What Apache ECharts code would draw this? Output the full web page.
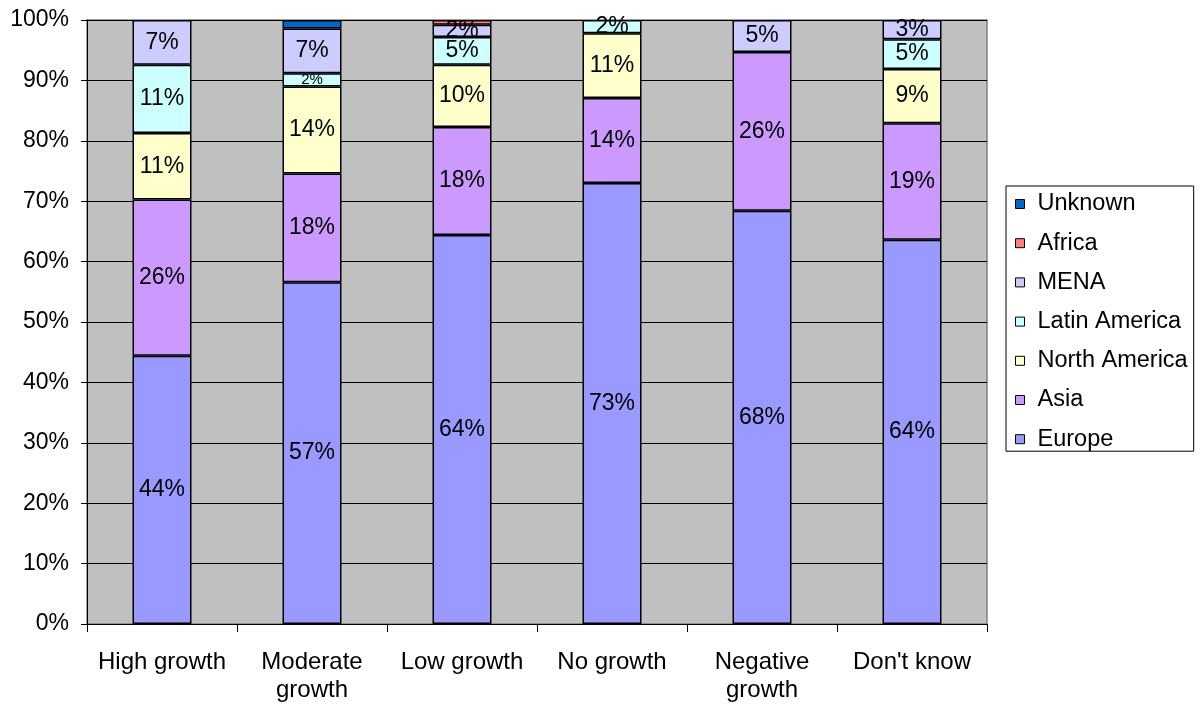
<!DOCTYPE html>
<html>
<head>
<meta charset="utf-8">
<title>Growth expectations by region</title>
<script src="https://cdn.jsdelivr.net/npm/echarts@6/dist/echarts.min.js"></script>
<style>
  html, body { margin: 0; padding: 0; background: #ffffff; }
  #chart { width: 1200px; height: 704px; }
</style>
</head>
<body>
<div id="chart"></div>
<script>
// Growth outlook categories
const categories = ['High growth', 'Moderate\ngrowth', 'Low growth', 'No growth', 'Negative\ngrowth', "Don't know"];

// Share of respondents per region (percent of each column)
const europe       = [44.4, 56.6, 64.4, 73.0, 68.4, 63.6];
const asia         = [25.9, 18.0, 17.9, 14.1, 26.3, 19.3];
const northAmerica = [11.0, 14.4, 10.3, 10.7, null, 9.0];
const latinAmerica = [11.3, 2.2, 4.6, 2.2, null, 4.9];
const mena         = [7.4, 7.4, 2.0, null, 5.3, 3.2];
const africa       = [null, null, 0.8, null, null, null];
const unknown      = [null, 1.4, null, null, null, null];

const yTicks = [0, 10, 20, 30, 40, 50, 60, 70, 80, 90, 100];

const FONT = '"Liberation Sans", Arial, sans-serif';
const FS = 23;

function makeSeries(name, data, color, showLabel, smallIdx) {
  return {
    name: name,
    type: 'bar',
    stack: 'share',
    barWidth: 59,
    data: data.map((v, i) => {
      if (v === null) return null;
      const item = { value: v };
      if (smallIdx === i) item.label = { fontSize: 15 };
      return item;
    }),
    itemStyle: { color: color, borderColor: '#000000', borderWidth: 1.5 },
    label: {
      show: showLabel,
      position: 'inside',
      color: '#000000',
      fontFamily: FONT,
      fontSize: FS,
      formatter: p => Math.round(p.value) + '%'
    },
    emphasis: { disabled: true }
  };
}

const chart = echarts.init(document.getElementById('chart'), null, { renderer: 'canvas' });

chart.setOption({
  animation: false,
  backgroundColor: '#ffffff',
  textStyle: { fontFamily: FONT },
  grid: {
    left: 87, right: 213, top: 20, bottom: 80,
    show: true,
    backgroundColor: '#c0c0c0',
    borderColor: '#808080',
    borderWidth: 1.5,
    containLabel: false
  },
  legend: {
    orient: 'vertical',
    left: 1006,
    top: 186,
    padding: [6, 6, 0, 9],
    itemWidth: 9,
    itemHeight: 9,
    itemGap: 15.2,
    borderColor: '#000000',
    borderWidth: 1,
    backgroundColor: '#ffffff',
    icon: 'rect',
    itemStyle: { borderColor: '#000000', borderWidth: 1 },
    textStyle: { fontFamily: FONT, fontSize: 23.5, lineHeight: 24, color: '#000000', padding: [0, 0, 0, 8] },
    data: ['Unknown', 'Africa', 'MENA', 'Latin America', 'North America', 'Asia', 'Europe']
  },
  xAxis: {
    type: 'category',
    data: categories,
    axisLine: { show: true, lineStyle: { color: '#000000', width: 1 } },
    axisTick: { show: true, length: 8, alignWithLabel: false, lineStyle: { color: '#000000' } },
    axisLabel: { color: '#000000', fontFamily: FONT, fontSize: 24, lineHeight: 28, margin: 24, interval: 0 },
    splitLine: { show: false }
  },
  yAxis: {
    type: 'value',
    min: yTicks[0],
    max: yTicks[yTicks.length - 1],
    interval: 10,
    axisLine: { show: true, lineStyle: { color: '#000000', width: 1 } },
    axisTick: { show: true, inside: false, length: 6, lineStyle: { color: '#000000' } },
    axisLabel: { color: '#000000', fontFamily: FONT, fontSize: FS, margin: 18, formatter: v => v + '%' },
    splitLine: { show: true, lineStyle: { color: '#000000', width: 1 } }
  },
  series: [
    makeSeries('Europe', europe, '#9999ff', true),
    makeSeries('Asia', asia, '#cc99ff', true),
    makeSeries('North America', northAmerica, '#ffffcc', true),
    makeSeries('Latin America', latinAmerica, '#ccffff', true, 1),
    makeSeries('MENA', mena, '#ccccff', true),
    makeSeries('Africa', africa, '#ff7c80', false),
    makeSeries('Unknown', unknown, '#0066cc', false)
  ]
});
</script>
</body>
</html>
